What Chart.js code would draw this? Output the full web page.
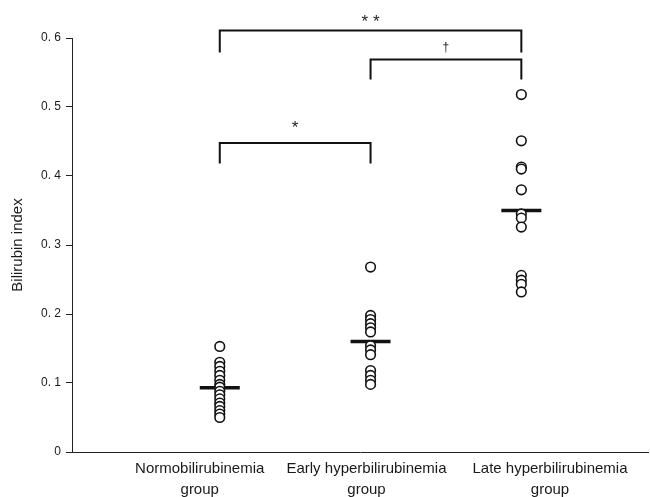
<!DOCTYPE html>
<html>
<head>
<meta charset="utf-8">
<script src="https://cdn.jsdelivr.net/npm/chart.js@4"></script>
<style>
  html, body { margin: 0; padding: 0; background: #fff; }
  #wrap { width: 650px; height: 497px; }
</style>
</head>
<body>
<div id="wrap"><canvas id="bili-chart"></canvas></div>
<script>
// groups along the x axis
const groupNames = ["Normobilirubinemia group", "Early hyperbilirubinemia group", "Late hyperbilirubinemia group"];

// bilirubin index of each case
const normoValues = [0.153, 0.130, 0.124, 0.117, 0.111, 0.104, 0.098, 0.094, 0.088, 0.083, 0.077, 0.071, 0.066, 0.060, 0.055, 0.050];
const earlyValues = [0.268, 0.198, 0.192, 0.186, 0.180, 0.174, 0.154, 0.148, 0.141, 0.118, 0.111, 0.104, 0.098];
const lateValues = [0.518, 0.451, 0.413, 0.410, 0.380, 0.345, 0.339, 0.326, 0.256, 0.249, 0.243, 0.232];

// mean bar of each group
const groupMeans = [0.093, 0.160, 0.350];

// y axis ticks
const yTicks = [0, 0.1, 0.2, 0.3, 0.4, 0.5, 0.6];

// significance brackets: groups joined, level of the bar, foot of the legs, mark
const bracketPairs = [[1, 3], [2, 3], [1, 2]];
const bracketTop = [0.611, 0.569, 0.448];
const bracketFoot = [0.579, 0.540, 0.418];
const bracketMarks = ["* *", "\u2020", "*"];

// how the marks sit above their bracket (px lift of the baseline, font size)
const markLift = [3, 8, 10];
const markSize = [17, 12, 17];

// the group labels sit a little off the columns in the original
const labelShift = [-0.133, -0.027, 0.19];

const toPoints = (vals, x) => vals.map(v => ({ x: x, y: v }));

const pointStyle = {
    type: 'scatter',
    pointRadius: 4.8,
    pointHoverRadius: 4.8,
    borderWidth: 1.6,
    borderColor: '#111',
    backgroundColor: '#fff'
};

const biliData = {
    datasets: [
        Object.assign({ data: toPoints(normoValues, 1) }, pointStyle),
        Object.assign({ data: toPoints(earlyValues, 2) }, pointStyle),
        Object.assign({ data: toPoints(lateValues, 3) }, pointStyle),
        {
            type: 'scatter',
            data: groupMeans.map((m, i) => ({ x: i + 1, y: m })),
            pointStyle: 'line',
            pointRadius: 20,
            pointHoverRadius: 20,
            borderWidth: 3.5,
            borderColor: '#111',
            backgroundColor: '#111'
        }
    ]
};

// draws the brackets and their marks over the plot
const bracketPlugin = {
    id: 'brackets',
    afterDatasetsDraw(chart) {
        const ctx = chart.ctx;
        const xs = chart.scales.x;
        const ys = chart.scales.y;
        ctx.save();
        ctx.strokeStyle = '#111';
        ctx.lineWidth = 2;
        ctx.fillStyle = '#222';
        ctx.textAlign = 'center';
        ctx.textBaseline = 'alphabetic';
        for (let i = 0; i < bracketPairs.length; i++) {
            const x1 = xs.getPixelForValue(bracketPairs[i][0]);
            const x2 = xs.getPixelForValue(bracketPairs[i][1]);
            const yTop = ys.getPixelForValue(bracketTop[i]);
            const yFoot = ys.getPixelForValue(bracketFoot[i]);
            ctx.beginPath();
            ctx.moveTo(x1, yFoot);
            ctx.lineTo(x1, yTop);
            ctx.lineTo(x2, yTop);
            ctx.lineTo(x2, yFoot);
            ctx.stroke();
            ctx.font = markSize[i] + 'px "Liberation Sans", Arial, sans-serif';
            ctx.fillText(bracketMarks[i], (x1 + x2) / 2, yTop - markLift[i]);
        }
        ctx.restore();
    }
};

const biliOptions = {
    responsive: true,
    maintainAspectRatio: false,
    animation: false,
    layout: {
        autoPadding: false,
        padding: { top: 38, right: 2, left: 0, bottom: 0 }
    },
    scales: {
        x: {
            type: 'linear',
            min: 0.02,
            max: 3.84,
            grid: { display: false, drawTicks: false, tickLength: 0 },
            border: { display: true, color: '#222', width: 1 },
            afterBuildTicks: axis => {
                axis.ticks = groupNames.map((n, i) => ({ value: i + 1 + labelShift[i] }));
            },
            afterFit: scale => {
                scale.height = 45;
                scale.paddingLeft = 0;
                scale.paddingRight = 0;
            },
            ticks: {
                autoSkip: false,
                maxRotation: 0,
                padding: 7,
                color: '#1a1a1a',
                font: { family: '"Liberation Sans", Arial, sans-serif', size: 15, lineHeight: 1.35 },
                callback: (value, index) => {
                    const name = groupNames[index];
                    const cut = name.lastIndexOf(' ');
                    return [name.slice(0, cut), name.slice(cut + 1)];
                }
            }
        },
        y: {
            min: 0,
            max: 0.6,
            afterBuildTicks: axis => {
                axis.ticks = yTicks.map(v => ({ value: v }));
            },
            afterFit: scale => { scale.width = 72; },
            grid: {
                drawOnChartArea: false,
                drawTicks: true,
                tickLength: 6,
                color: '#222'
            },
            border: { display: true, color: '#222', width: 1 },
            ticks: {
                padding: 5,
                color: '#1a1a1a',
                font: { family: '"Liberation Sans Narrow", "Liberation Sans", Arial, sans-serif', size: 12 },
                callback: v => v === 0 ? '0' : v.toFixed(1).replace('.', '. ')
            },
            title: {
                display: true,
                text: 'Bilirubin index',
                color: '#1a1a1a',
                padding: { top: 9, bottom: 0 },
                font: { family: '"Liberation Sans", Arial, sans-serif', size: 15 }
            }
        }
    },
    plugins: {
        legend: { display: false },
        tooltip: { enabled: false }
    }
};

const biliCanvas = document.getElementById('bili-chart');
let biliChart = new Chart(biliCanvas, {
    data: biliData,
    options: biliOptions,
    plugins: [bracketPlugin]
});
</script>
</body>
</html>
